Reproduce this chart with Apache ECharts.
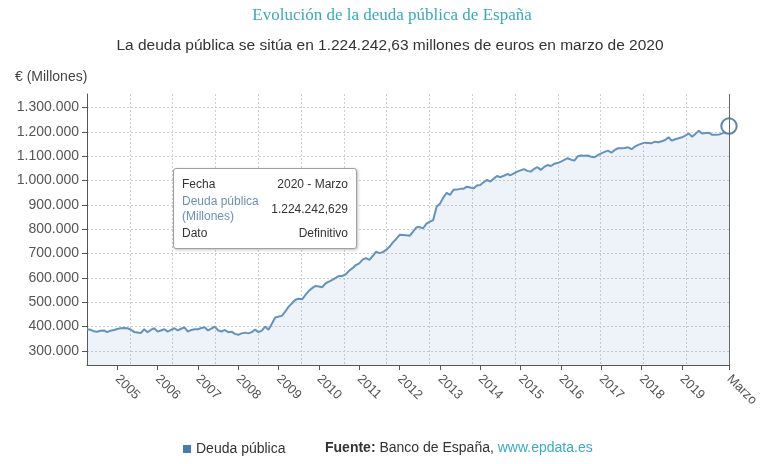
<!DOCTYPE html>
<html>
<head>
<meta charset="utf-8">
<script src="https://cdn.jsdelivr.net/npm/echarts@6/dist/echarts.min.js"></script>
<style>
  html, body { margin: 0; padding: 0; background: #fff; }
  #deudaChart { width: 768px; height: 464px; }
</style>
</head>
<body>
<div id="deudaChart"></div>
<script>
  // Deuda pública, datos mensuales abril 2004 - marzo 2020 (millones de euros)
  const firstYear = 2004;
  const firstMonth = 4;
  const deuda = [
    389000, 387000, 381000, 379000, 383000, 384000, 377000, 383000, 386000,                   // 2004
    390000, 393000, 394000, 393000, 388000, 378000, 376000, 373000, 389000, 377000, 386000, 393000, // 2005
    379000, 384000, 389000, 379000, 386000, 393000, 384000, 391000, 397000, 379000, 386000, 389000, // 2006
    389000, 394000, 397000, 384000, 392000, 400000, 385000, 379000, 386000, 377000, 379000, 370000, // 2007
    366000, 372000, 375000, 372000, 377000, 388000, 377000, 383000, 400000, 387000, 412000, 437000, // 2008
    441000, 444000, 462000, 482000, 496000, 510000, 514000, 512000, 530000, 547000, 558000, 567000, // 2009
    565000, 562000, 578000, 585000, 592000, 600000, 608000, 608000, 615000, 630000, 640000, 653000, // 2010
    660000, 675000, 681000, 674000, 690000, 708000, 702000, 706000, 715000, 728000, 746000, 760000, // 2011
    777000, 776000, 775000, 773000, 790000, 808000, 809000, 804000, 823000, 831000, 838000, 893000, // 2012
    905000, 930000, 950000, 941000, 962000, 963000, 966000, 966000, 975000, 972000, 968000, 980000, // 2013
    982000, 993000, 1003000, 996000, 1008000, 1019000, 1014000, 1020000, 1027000, 1022000, 1030000, 1037000, // 2014
    1042000, 1047000, 1040000, 1037000, 1048000, 1055000, 1044000, 1056000, 1064000, 1060000, 1069000, 1072000, // 2015
    1078000, 1085000, 1092000, 1086000, 1082000, 1100000, 1103000, 1102000, 1103000, 1098000, 1096000, 1105000, // 2016
    1112000, 1118000, 1123000, 1115000, 1126000, 1133000, 1133000, 1134000, 1137000, 1129000, 1140000, 1147000, // 2017
    1152000, 1156000, 1155000, 1154000, 1160000, 1158000, 1162000, 1167000, 1178000, 1164000, 1170000, 1174000, // 2018
    1178000, 1185000, 1194000, 1180000, 1192000, 1205000, 1194000, 1196000, 1197000, 1188000, 1188000, 1189000, // 2019
    1194000, 1200000, 1224242.629                                                               // 2020
  ];
  const yTicks = [300000, 400000, 500000, 600000, 700000, 800000, 900000, 1000000, 1100000, 1200000, 1300000];

  const categories = [];
  for (let i = 0; i < deuda.length; i++) {
    const m = firstMonth - 1 + i;
    const y = firstYear + Math.floor(m / 12);
    categories.push(y + '-' + String(m % 12 + 1).padStart(2, '0'));
  }
  const lastIdx = deuda.length - 1;
  const lastCat = categories[lastIdx];

  const fmtMiles = v => String(v).replace(/\B(?=(\d{3})+(?!\d))/g, '.');
  const fmtValor = v => {
    const parts = v.toFixed(3).split('.');
    return fmtMiles(parts[0]) + ',' + parts[1];
  };
  // ticks on January of each full year, plus the last month ("Marzo")
  const showTick = (idx, val) => (val.slice(5) === '01' && idx < lastIdx - 6) || val === lastCat;

  const lineColor = '#5a86ad';
  const gridColor = '#cfcfcf';
  const axisColor = '#555';
  const font = 'Liberation Sans';

  const chart = echarts.init(document.getElementById('deudaChart'));

  const option = {
    animation: false,
    grid: { left: 87, right: 39, top: 94, bottom: 99 },
    graphic: [
      { type: 'text', x: 392, y: 16, style: { text: 'Evolución de la deuda pública de España', fontFamily: 'Liberation Serif', fontSize: 17, fill: '#3aa9bb', align: 'center', verticalAlign: 'middle' } },
      { type: 'text', x: 390, y: 46, style: { text: 'La deuda pública se sitúa en 1.224.242,63 millones de euros en marzo de 2020', fontFamily: font, fontSize: 15.5, fill: '#333', align: 'center', verticalAlign: 'middle' } },
      { type: 'text', x: 15, y: 77, style: { text: '€ (Millones)', fontFamily: font, fontSize: 14, fill: '#444', align: 'left', verticalAlign: 'middle' } },
      { type: 'text', x: 325, y: 448, style: {
          text: '{b|Fuente:} Banco de España, {l|www.epdata.es}',
          fontFamily: font, fontSize: 14, fill: '#333', verticalAlign: 'middle',
          rich: { b: { fontWeight: 'bold', fontFamily: font, fontSize: 14, fill: '#333' }, l: { fill: '#3aaac6', fontFamily: font, fontSize: 14 } }
        } }
    ],
    legend: {
      left: 183, top: 442, padding: 0, icon: 'rect', itemWidth: 8, itemHeight: 8, itemGap: 6,
      textStyle: { fontFamily: font, fontSize: 14, color: '#333' },
      data: [{ name: 'Deuda pública', itemStyle: { color: '#4a7aa8' } }]
    },
    tooltip: {
      trigger: 'axis',
      triggerOn: 'none',
      alwaysShowContent: true,
      position: [173, 168],
      transitionDuration: 0,
      backgroundColor: '#fff',
      borderColor: '#a0a0a0',
      borderWidth: 1,
      borderRadius: 3,
      padding: [7, 8, 6, 8],
      extraCssText: 'box-shadow: 1px 1px 3px rgba(0,0,0,0.25);',
      axisPointer: { type: 'line', animation: false, lineStyle: { color: '#666', width: 1, type: 'solid' } },
      formatter: params => {
        const p = params[0];
        const c = 'font-family:Liberation Sans;font-size:12px;color:#333;line-height:15px;';
        return '<table style="border-collapse:collapse;width:166px;' + c + '">' +
          '<tr><td style="padding:1px 0">Fecha</td><td style="padding:1px 0;text-align:right">2020 - Marzo</td></tr>' +
          '<tr><td style="padding:1px 0;color:#6b8fb5">Deuda pública<br>(Millones)</td><td style="padding:1px 0;text-align:right">' + fmtValor(p.value) + '</td></tr>' +
          '<tr><td style="padding:1px 0">Dato</td><td style="padding:1px 0;text-align:right">Definitivo</td></tr>' +
          '</table>';
      }
    },
    xAxis: [
      {
        type: 'category',
        data: categories,
        boundaryGap: false,
        axisLine: { lineStyle: { color: axisColor, width: 1 } },
        axisTick: { interval: showTick, length: 5, lineStyle: { color: axisColor } },
        axisLabel: {
          interval: showTick,
          rotate: -45,
          margin: 12,
          fontFamily: font,
          fontSize: 13,
          color: '#555',
          formatter: v => v === lastCat ? 'Marzo' : v.slice(0, 4)
        },
        splitLine: { show: false }
      },
      {
        type: 'value',
        min: 0,
        max: 15,
        interval: 1,
        position: 'top',
        axisLine: { show: false },
        axisTick: { show: false },
        axisLabel: { show: false },
        splitLine: { show: true, lineStyle: { color: gridColor, type: [2, 2] } }
      }
    ],
    yAxis: {
      type: 'value',
      min: 242000,
      max: 1356000,
      axisLine: { show: true, lineStyle: { color: axisColor, width: 1 } },
      axisTick: { show: true, length: 5, customValues: yTicks, lineStyle: { color: axisColor } },
      axisLabel: {
        customValues: yTicks,
        margin: 8,
        fontFamily: font,
        fontSize: 14,
        color: '#555',
        formatter: v => fmtMiles(v)
      },
      splitLine: { show: true, lineStyle: { color: gridColor, type: [2, 2] } }
    },
    series: [
      {
        name: 'Deuda pública',
        type: 'line',
        xAxisIndex: 0,
        color: lineColor,
        symbol: 'none',
        showSymbol: true,
        showAllSymbol: true,
        lineStyle: { color: lineColor, width: 2 },
        areaStyle: { color: 'rgba(74,122,168,0.1)', opacity: 1 },
        data: deuda.map((v, i) => i === lastIdx
          ? { value: v, symbol: 'circle', symbolSize: 14, itemStyle: { color: '#fff', borderColor: lineColor, borderWidth: 2 } }
          : v)
      }
    ]
  };

  chart.setOption(option);
  chart.dispatchAction({ type: 'showTip', seriesIndex: 0, dataIndex: lastIdx });
  window.addEventListener('resize', () => { chart.resize(); });
</script>
</body>
</html>
